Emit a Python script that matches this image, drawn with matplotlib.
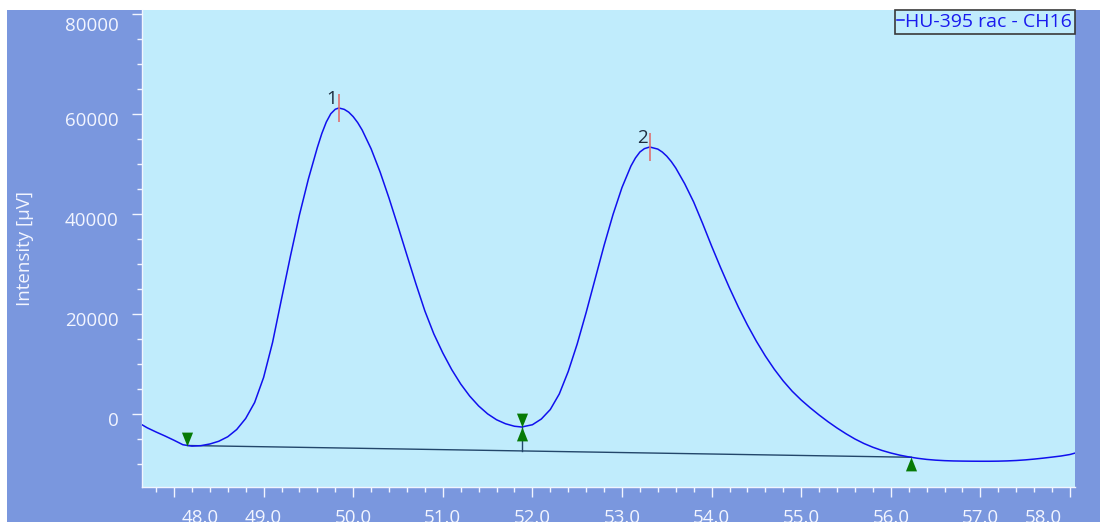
import matplotlib
matplotlib.use('Agg')
import matplotlib.pyplot as plt
import matplotlib.transforms as mtransforms
from matplotlib.patches import Rectangle
from matplotlib.ticker import FixedLocator, MultipleLocator
import numpy as np

# detector trace: retention time [min] / signal [uV]
time_min = [47.6, 47.7, 47.8, 47.9, 48.0, 48.1, 48.2, 48.3, 48.4, 48.5,
            48.6, 48.7, 48.8, 48.9, 49.0, 49.1, 49.2, 49.3, 49.4, 49.5,
            49.6, 49.65, 49.7, 49.75, 49.8, 49.84, 49.9, 49.95, 50.0, 50.05,
            50.1, 50.2, 50.3, 50.4, 50.5, 50.6, 50.7, 50.8, 50.9, 51.0,
            51.1, 51.2, 51.3, 51.4, 51.5, 51.6, 51.7, 51.8, 51.88, 52.0,
            52.1, 52.2, 52.3, 52.4, 52.5, 52.6, 52.7, 52.8, 52.9, 53.0,
            53.1, 53.15, 53.2, 53.25, 53.31, 53.4, 53.45, 53.5, 53.55, 53.6,
            53.7, 53.8, 53.9, 54.0, 54.1, 54.2, 54.3, 54.4, 54.5, 54.6,
            54.7, 54.8, 54.9, 55.0, 55.1, 55.2, 55.3, 55.4, 55.5, 55.6,
            55.7, 55.8, 55.9, 56.0, 56.1, 56.2, 56.3, 56.4, 56.5, 56.6,
            56.7, 56.8, 56.9, 57.0, 57.1, 57.2, 57.3, 57.4, 57.5, 57.6,
            57.7, 57.8, 57.9, 58.0, 58.06]
intensity_uv = [-1700, -2750, -3600, -4400, -5250, -6150, -6420, -6330, -6000, -5450,
                -4550, -3100, -900, 2300, 7300, 14300, 23000, 31600, 39800, 47000,
                53300, 56100, 58400, 60050, 60950, 61200, 60930, 60370, 59470, 58285,
                56800, 53040, 48420, 43170, 37530, 31750, 26040, 20610, 16020, 12220,
                8870, 6000, 3590, 1610, 30, -1150, -1950, -2450, -2600, -2150,
                -1000, 900, 4000, 8500, 14000, 20300, 27000, 33700, 39900, 45300,
                49600, 51200, 52400, 53070, 53400, 52980, 52390, 51560, 50490, 49200,
                46050, 42400, 38100, 33600, 29300, 25200, 21350, 17800, 14550, 11600,
                8950, 6600, 4550, 2800, 1250, -200, -1550, -2800, -3950, -5000,
                -5900, -6650, -7280, -7800, -8230, -8580, -8860, -9080, -9230, -9330,
                -9390, -9420, -9440, -9450, -9450, -9430, -9380, -9300, -9180, -9020,
                -8830, -8620, -8400, -8100, -7800]

peak_ids = ['1', '2']
peak_time = [49.84, 53.31]
peak_height = [61200, 53400]

# integration marks: peak 1 start, valley, peak 2 end
bound_time = [48.15, 51.88, 56.23]
bound_height = [-6300, -2600, -8650]

x_ticks = [48.0, 49.0, 50.0, 51.0, 52.0, 53.0, 54.0, 55.0, 56.0, 57.0, 58.0]
y_ticks = [0, 20000, 40000, 60000, 80000]
trace_name = 'HU-395 rac - CH16'

FRAME_BLUE = '#7A97DE'
PLOT_CYAN = '#C0ECFC'
AXIS_WHITE = '#F2F5FF'

plt.rcParams['font.family'] = ['Open Sans', 'DejaVu Sans']

W, H = 1100, 522
fig = plt.figure(figsize=(W / 100, H / 100), dpi=100, facecolor='white')
fig.patches.append(Rectangle((7 / W, 0), 1, (H - 10) / H, transform=fig.transFigure,
                             facecolor=FRAME_BLUE, edgecolor='none', zorder=-10))

ax = fig.add_axes([142 / W, 35 / H, 933 / W, 477 / H])
ax.set_facecolor(PLOT_CYAN)
ax.set_xlim(47.643, 58.056)
ax.set_ylim(-14600, 80800)

ax.plot(time_min, intensity_uv, color='#1010EE', lw=1.1, label=trace_name, zorder=3)

# baseline under both peaks and the drop line at the valley
ax.plot([bound_time[0], bound_time[2]], [bound_height[0], bound_height[2]],
        color='#22466A', lw=1.0, zorder=2)
base_at_valley = np.interp(bound_time[1], [bound_time[0], bound_time[2]],
                           [bound_height[0], bound_height[2]])
ax.plot([bound_time[1], bound_time[1]], [bound_height[1], base_at_valley],
        color='#22466A', lw=1.0, zorder=2)

tri_down = [(0, 0), (-0.4, 1), (0.4, 1), (0, 0)]
tri_up = [(0, 0), (-0.4, -1), (0.4, -1), (0, 0)]
ax.plot(bound_time[:2], bound_height[:2], ls='none', marker=tri_down, ms=20,
        color='#067A06', mec='none', zorder=4)
ax.plot(bound_time[1:], bound_height[1:], ls='none', marker=tri_up, ms=20,
        color='#067A06', mec='none', zorder=4)

ax.plot(peak_time, peak_height, ls='none', marker='|', ms=20, mew=1.2,
        color='#E07070', zorder=4)
for pid, t, h in zip(peak_ids, peak_time, peak_height):
    ax.annotate(pid, (t, h), xytext=(-1.5, 3), textcoords='offset points',
                ha='right', va='baseline', fontsize=13.5, color='#1E2E40')

ax.xaxis.set_major_locator(FixedLocator(x_ticks))
ax.xaxis.set_minor_locator(MultipleLocator(0.2))
ax.set_xticklabels(['%.1f' % v for v in x_ticks])
ax.yaxis.set_major_locator(FixedLocator(y_ticks))
ax.yaxis.set_minor_locator(MultipleLocator(5000))
ax.set_yticklabels(['%d' % v for v in y_ticks])

ax.tick_params(which='both', direction='out', color=AXIS_WHITE, width=1,
               labelcolor=AXIS_WHITE, labelsize=13.5)
ax.tick_params(which='major', length=7)
ax.tick_params(which='minor', length=3.3)
ax.tick_params(axis='x', which='major', pad=8.5)
ax.tick_params(axis='y', which='major', pad=10)

for side in ('top', 'right'):
    ax.spines[side].set_visible(False)
for side in ('left', 'bottom'):
    ax.spines[side].set_color(AXIS_WHITE)
    ax.spines[side].set_linewidth(1)

# edge labels on the time axis sit inward, intensity labels a bit low
xlabels = ax.get_xticklabels()
xlabels[0].set_transform(xlabels[0].get_transform()
                         + mtransforms.ScaledTranslation(0.26, 0, fig.dpi_scale_trans))
xlabels[-1].set_transform(xlabels[-1].get_transform()
                          + mtransforms.ScaledTranslation(-0.27, 0, fig.dpi_scale_trans))
ylabels = ax.get_yticklabels()
for i, lab in enumerate(ylabels):
    dy = -0.10 if i == len(ylabels) - 1 else -0.05
    lab.set_transform(lab.get_transform()
                      + mtransforms.ScaledTranslation(0, dy, fig.dpi_scale_trans))

fig.text(25 / W, 1 - 248.5 / H, 'Intensity [µV]', rotation=90, ha='center', va='center',
         fontsize=13.5, color=AXIS_WHITE)

leg = ax.legend(loc='upper right', bbox_to_anchor=(1.0, 1.0), borderaxespad=0,
                handlelength=0.35, handletextpad=0.05, borderpad=0.15,
                fancybox=False, framealpha=1, facecolor=PLOT_CYAN,
                edgecolor='#3A3A3A', fontsize=14, labelcolor='#1A1AEE')
leg.get_frame().set_linewidth(1.2)

fig.savefig('out.png', dpi=100, facecolor=fig.get_facecolor())
